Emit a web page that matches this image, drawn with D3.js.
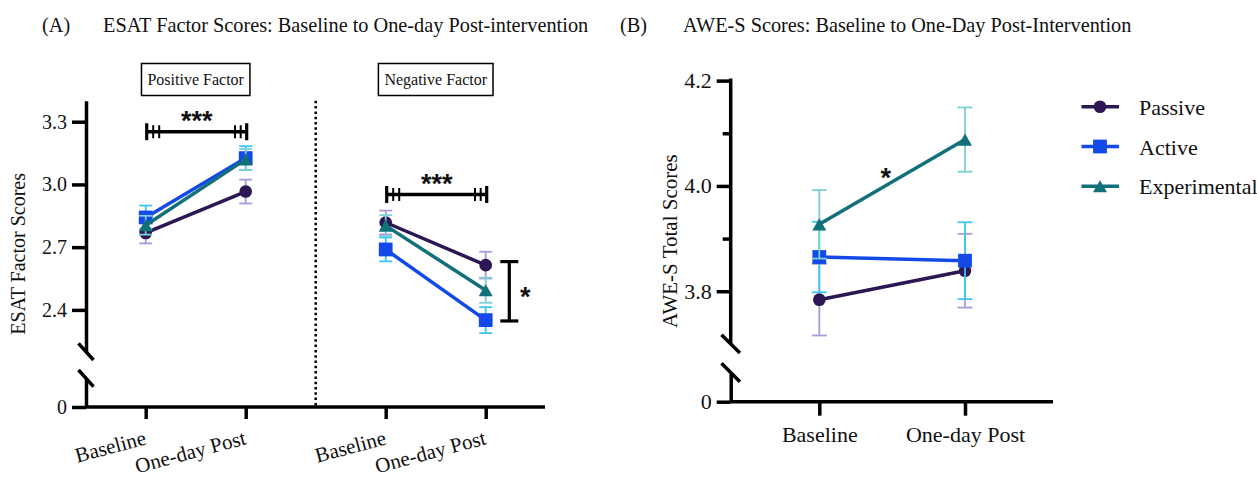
<!DOCTYPE html>
<html>
<head>
<meta charset="utf-8">
<script src="https://cdn.jsdelivr.net/npm/d3@7"></script>
<style>
body { margin: 0; background: #fff; }
svg text { font-family: 'Liberation Serif', 'Times New Roman', serif; fill: #111; }
</style>
</head>
<body>
<div class="chart"></div>
<script>
// ---------- data ----------
const groups = ['Passive', 'Active', 'Experimental'];
const timepoints = ['Baseline', 'One-day Post'];
const factors = ['Positive Factor', 'Negative Factor'];

// means and error per group, [baseline, one-day post]
const esatPosMean = [[2.768, 2.966], [2.842, 3.126], [2.805, 3.12]];
const esatPosErr = [[0.05, 0.057], [0.057, 0.057], [0.045, 0.05]];
const esatNegMean = [[2.818, 2.614], [2.689, 2.351], [2.803, 2.494]];
const esatNegErr = [[0.057, 0.064], [0.057, 0.062], [0.05, 0.06]];

const aweMean = [[3.784, 3.839], [3.865, 3.858], [3.927, 4.088]];
const aweErr = [[0.068, 0.07], [0.067, 0.073], [0.065, 0.061]];

const esatTicks = [2.4, 2.7, 3.0, 3.3];
const aweTicks = [3.8, 4.0, 4.2];
const aweMinorTicks = [3.9, 4.1];
const zeroTick = [0];

// significance annotations (value levels)
const esatSigLevel = [3.252, 2.952];
const esatNegGroupSig = [2.631, 2.347];
const aweSigLevel = 4.027;

// ---------- style ----------
const colors = ['#2c1654', '#1249e8', '#117079'];
const errColors = ['#ab9ad8', '#40c4f2', '#7ccfd2'];
const shapes = [d3.symbolCircle, d3.symbolSquare, d3.symbolTriangle];
const shapeSizes = [125, 190, 85];
const serif = "'Liberation Serif', 'Times New Roman', serif";
const sans = "'Liberation Sans', Arial, sans-serif";

const svg = d3.select('.chart').append('svg')
    .attr('width', 1257)
    .attr('height', 479);

function styleAxis(g, size) {
    g.attr('font-family', serif).attr('font-size', size);
    g.selectAll('path, line').attr('stroke', '#000').attr('stroke-width', 3.5);
    g.selectAll('text').attr('fill', '#111');
}

function marker(i) {
    // d3 triangles are centred on the centroid; shift to centre the box
    const shift = i === 2 ? Math.sqrt(shapeSizes[i] / (3 * Math.sqrt(3))) / 2 : 0;
    return d => `translate(${d.px},${d.py + shift})`;
}

function drawSeries(g, xs, y, means, errs, capW) {
    groups.forEach((grp, i) => {
        const pts = timepoints.map((t, j) => ({
            px: xs(t), py: y(means[i][j]),
            lo: y(means[i][j] - errs[i][j]), hi: y(means[i][j] + errs[i][j])
        }));
        const eb = g.append('g').attr('stroke', errColors[i]).attr('stroke-width', 1.8);
        eb.selectAll('.v').data(pts).join('line')
            .attr('x1', d => d.px).attr('x2', d => d.px)
            .attr('y1', d => d.lo).attr('y2', d => d.hi);
        eb.selectAll('.c').data(pts.flatMap(d => [{px: d.px, py: d.lo}, {px: d.px, py: d.hi}])).join('line')
            .attr('x1', d => d.px - capW).attr('x2', d => d.px + capW)
            .attr('y1', d => d.py).attr('y2', d => d.py);
        g.append('path').datum(pts)
            .attr('d', d3.line().x(d => d.px).y(d => d.py))
            .attr('fill', 'none')
            .attr('stroke', colors[i])
            .attr('stroke-width', 3.5);
        g.append('g').selectAll('path').data(pts).join('path')
            .attr('transform', marker(i))
            .attr('d', d3.symbol(shapes[i], shapeSizes[i]))
            .attr('fill', colors[i]);
    });
}

function breakMarks(g, x, ys, dx, dy) {
    ys.forEach(y => {
        g.append('line')
            .attr('x1', x - dx).attr('y1', y - dy)
            .attr('x2', x + dx).attr('y2', y + dy)
            .attr('stroke', '#000').attr('stroke-width', 3.5);
    });
}

function stars(g, x, yc, txt) {
    g.append('text')
        .attr('x', x).attr('y', yc + 15)
        .attr('text-anchor', 'middle')
        .attr('font-weight', 'bold')
        .attr('font-size', 27)
        .style('font-family', sans)
        .text(txt);
}

// ---------- titles ----------
svg.append('text').attr('x', 42).attr('y', 32).attr('font-size', 20.3).text('(A)');
svg.append('text').attr('x', 103).attr('y', 32).attr('font-size', 20.3)
    .text('ESAT Factor Scores: Baseline to One-day Post-intervention');
svg.append('text').attr('x', 620).attr('y', 32).attr('font-size', 20.3).text('(B)');
svg.append('text').attr('x', 683).attr('y', 32).attr('font-size', 20.3)
    .text('AWE-S Scores: Baseline to One-Day Post-Intervention');

// ---------- panel A ----------
const gA = svg.append('g');
const axA = 86;
const yA = d3.scaleLinear().domain([2.2, 3.4]).range([351.7, 100.8]);
const yA0 = d3.scaleLinear().domain([0, 0.1]).range([407, 378.3]);
const xFactor = d3.scaleBand().domain(factors).range([75.7, 555.7]);
const xTimeA = f => d3.scalePoint().domain(timepoints)
    .range([xFactor(f) + 70, xFactor(f) + xFactor.bandwidth() - 70]);

gA.append('g').attr('transform', `translate(${axA},0)`)
    .call(d3.axisLeft(yA).tickValues(esatTicks).tickFormat(d3.format('.1f'))
        .tickSize(14).tickSizeOuter(0).tickPadding(5))
    .call(g => styleAxis(g, 20));
gA.append('g').attr('transform', `translate(${axA},0)`)
    .call(d3.axisLeft(yA0).tickValues(zeroTick).tickFormat(d3.format('d'))
        .tickSize(14).tickSizeOuter(0).tickPadding(5))
    .call(g => styleAxis(g, 20));
breakMarks(gA, axA, [yA.range()[0], yA0.range()[1]], 7.5, 8.3);

// x axis line
gA.append('line')
    .attr('x1', axA).attr('x2', 545)
    .attr('y1', yA0(0)).attr('y2', yA0(0))
    .attr('stroke', '#000').attr('stroke-width', 3.5);

factors.forEach(f => {
    const xs = xTimeA(f);
    gA.append('g').attr('transform', `translate(0,${yA0(0)})`)
        .call(d3.axisBottom(xs).tickSize(12).tickSizeOuter(0))
        .call(g => g.select('.domain').remove())
        .call(g => styleAxis(g, 21))
        .call(g => g.selectAll('.tick text')
            .attr('text-anchor', 'end')
            .attr('x', 1).attr('y', 37).attr('dy', 0)
            .attr('transform', 'rotate(-15,1,37)'));

    // facet label box
    const cx = xFactor(f) + xFactor.bandwidth() / 2;
    const fg = gA.append('g');
    const box = fg.append('rect')
        .attr('y', 63.5).attr('height', 32)
        .attr('fill', '#fff')
        .attr('stroke', '#000').attr('stroke-width', 1.5);
    const lbl = fg.append('text')
        .attr('x', cx).attr('y', 85)
        .attr('text-anchor', 'middle')
        .attr('font-size', 16)
        .text(f);
    const w = lbl.node().getComputedTextLength() + 12;
    box.attr('x', cx - w / 2).attr('width', w);
});

// dotted divider
gA.append('line')
    .attr('x1', xFactor(factors[1])).attr('x2', xFactor(factors[1]))
    .attr('y1', yA.range()[1]).attr('y2', yA0(0))
    .attr('stroke', '#000').attr('stroke-width', 2.5)
    .attr('stroke-dasharray', '2.5,2.8');

// y label
gA.append('text')
    .attr('transform', `translate(25,${(yA.range()[1] + yA0(0)) / 2}) rotate(-90)`)
    .attr('text-anchor', 'middle')
    .attr('font-size', 20)
    .text('ESAT Factor Scores');

// series
drawSeries(gA, xTimeA(factors[0]), yA, esatPosMean, esatPosErr, 6.5);
drawSeries(gA, xTimeA(factors[1]), yA, esatNegMean, esatNegErr, 6.5);

// time-effect brackets
factors.forEach((f, k) => {
    const xs = xTimeA(f);
    const x0 = xs(timepoints[0]) + 1, x1 = xs(timepoints[1]) + 1;
    const yy = yA(esatSigLevel[k]);
    const br = gA.append('g').attr('stroke', '#000');
    br.append('line').attr('x1', x0).attr('x2', x1).attr('y1', yy).attr('y2', yy).attr('stroke-width', 3.5);
    [[x0, 8.5], [x0 + 6.5, 6.5], [x0 + 12.5, 6.5], [x1, 8.5], [x1 - 6, 6.5], [x1 - 11.7, 6.5]].forEach(([x, h]) => {
        br.append('line').attr('x1', x).attr('x2', x).attr('y1', yy - h).attr('y2', yy + h)
            .attr('stroke-width', x === x0 || x === x1 ? 3.2 : 2);
    });
    stars(gA, (x0 + x1) / 2, yy - 16.5, '***');
});

// group bracket on negative factor one-day post
{
    const xb = xTimeA(factors[1])(timepoints[1]) + 23.6;
    const y0 = yA(esatNegGroupSig[0]), y1 = yA(esatNegGroupSig[1]);
    const br = gA.append('g').attr('stroke', '#000').attr('stroke-width', 3.2);
    br.append('line').attr('x1', xb).attr('x2', xb).attr('y1', y0).attr('y2', y1);
    br.append('line').attr('x1', xb - 9).attr('x2', xb + 9).attr('y1', y0).attr('y2', y0);
    br.append('line').attr('x1', xb - 9).attr('x2', xb + 9).attr('y1', y1).attr('y2', y1);
    stars(gA, xb + 16, (y0 + y1) / 2, '*');
}

// ---------- panel B ----------
const gB = svg.append('g');
const axB = 730.7;
const yB = d3.scaleLinear().domain([3.7, 4.2]).range([343.9, 80.6]);
const yB0 = d3.scaleLinear().domain([0, 0.1]).range([401.7, 372.5]);
const xB = d3.scalePoint().domain(timepoints).range([819.3, 965]);

gB.append('g').attr('transform', `translate(${axB},0)`)
    .call(d3.axisLeft(yB).tickValues(aweTicks).tickFormat(d3.format('.1f'))
        .tickSize(14).tickSizeOuter(0).tickPadding(5))
    .call(g => styleAxis(g, 22))
    .call(g => g.select('.domain').attr('d', `M0,${yB.range()[0]}V78.5`));
gB.append('g').attr('transform', `translate(${axB},0)`)
    .call(d3.axisLeft(yB).tickValues(aweMinorTicks).tickFormat('').tickSize(8).tickSizeOuter(0))
    .call(g => g.select('.domain').remove())
    .call(g => styleAxis(g, 22));
gB.append('g').attr('transform', `translate(${axB},0)`)
    .call(d3.axisLeft(yB0).tickValues(zeroTick).tickFormat(d3.format('d'))
        .tickSize(14).tickSizeOuter(0).tickPadding(5))
    .call(g => styleAxis(g, 22));
breakMarks(gB, axB, [yB.range()[0], yB0.range()[1]], 9.2, 9.2);

gB.append('line')
    .attr('x1', axB).attr('x2', 1053)
    .attr('y1', yB0(0)).attr('y2', yB0(0))
    .attr('stroke', '#000').attr('stroke-width', 3.5);
gB.append('g').attr('transform', `translate(0,${yB0(0)})`)
    .call(d3.axisBottom(xB).tickSize(14).tickSizeOuter(0))
    .call(g => g.select('.domain').remove())
    .call(g => styleAxis(g, 22))
    .call(g => g.selectAll('.tick text').attr('y', 40.6).attr('dy', 0));

gB.append('text')
    .attr('transform', `translate(677,${(yB.range()[1] + yB0(0)) / 2}) rotate(-90)`)
    .attr('text-anchor', 'middle')
    .attr('font-size', 21)
    .text('AWE-S Total Scores');

drawSeries(gB, xB, yB, aweMean, aweErr, 7.5);
stars(gB, (xB(timepoints[0]) + xB(timepoints[1])) / 2 - 6.5, yB(aweSigLevel), '*');

// legend
const legY = d3.scalePoint().domain(groups).range([106.7, 186.3]);
const leg = svg.append('g').selectAll('g').data(groups).join('g')
    .attr('transform', d => `translate(1100,${legY(d)})`);
leg.append('line').attr('x1', -18.5).attr('x2', 19)
    .attr('stroke', (d, i) => colors[i]).attr('stroke-width', 3.5);
leg.append('path')
    .attr('transform', (d, i) => marker(i)({px: 0, py: 0}))
    .attr('d', (d, i) => d3.symbol(shapes[i], shapeSizes[i])())
    .attr('fill', (d, i) => colors[i]);
leg.append('text').attr('x', 39).attr('y', 8).attr('font-size', 22).text(d => d);
</script>
</body>
</html>
